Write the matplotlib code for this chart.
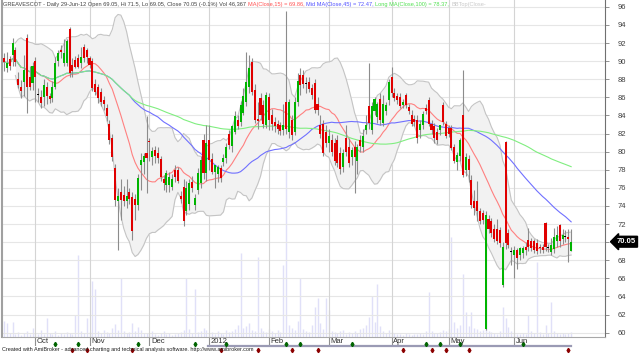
import matplotlib
matplotlib.use('Agg')
import matplotlib.pyplot as plt
import matplotlib.transforms as mtransforms
import numpy as np
import pandas as pd

##########
# Data (one entry per trading day)
##########

opens = [
    90.3, 89.3, 90.2, 90.7, 91.2, 88.0, 87.2, 87.7, 92.6, 88.3,
    87.6, 90.0, 86.3, 86.0, 86.0, 87.2, 86.2, 85.9, 87.2, 90.0,
    91.2, 89.8, 89.8, 93.6, 89.6, 90.1, 90.3, 89.8, 91.6, 91.2,
    90.3, 90.0, 87.5, 87.2, 86.6, 85.7, 84.8, 83.1, 81.5, 78.2,
    74.5, 75.5, 75.2, 74.5, 75.5, 75.0, 74.8, 74.1, 78.5, 78.9,
    79.8, 81.2, 79.4, 80.2, 79.8, 79.2, 77.0, 76.3, 76.3, 76.1,
    78.0, 78.0, 75.1, 76.1, 73.4, 74.2, 76.7, 74.1, 75.8, 76.5,
    81.3, 77.6, 81.3, 79.2, 77.7, 77.5, 78.2, 78.9, 79.3, 82.0,
    80.6, 82.2, 83.5, 83.3, 84.3, 85.5, 87.2, 89.9, 86.8, 83.6,
    85.9, 85.2, 83.0, 86.0, 84.0, 83.3, 83.1, 82.9, 82.4, 85.5,
    82.2, 83.5, 82.2, 85.5, 88.5, 88.5, 87.5, 87.7, 87.0, 87.6,
    85.3, 83.0, 83.1, 82.2, 81.0, 81.3, 81.0, 81.3, 79.8, 78.3,
    81.5, 80.5, 79.4, 80.5, 79.0, 81.3, 80.5, 82.4, 85.0, 82.4,
    84.5, 83.8, 85.8, 83.2, 84.5, 85.7, 88.3, 86.5, 86.1, 86.0,
    85.2, 86.3, 84.9, 84.1, 83.6, 83.5, 82.4, 83.0, 84.8, 85.7,
    83.1, 82.8, 82.2, 82.4, 85.2, 83.1, 82.6, 82.6, 80.5, 78.9,
    79.5, 84.1, 78.0, 79.2, 76.9, 74.6, 74.5, 73.4, 73.2, 60.4,
    72.6, 72.3, 71.5, 71.5, 71.3, 65.3, 81.1, 71.0, 68.9, 68.6,
    69.1, 68.6, 68.8, 69.5, 70.2, 70.1, 70.1, 69.9, 69.5, 69.5,
    72.1, 69.4, 68.9, 69.2, 70.1, 71.9, 70.3, 70.6, 70.6, 69.05,
]
highs = [
    90.9, 91.0, 90.6, 92.6, 91.6, 88.8, 87.9, 90.7, 93.0, 89.5,
    89.9, 90.5, 87.0, 86.8, 88.0, 87.7, 86.5, 87.8, 90.5, 91.2,
    91.8, 92.5, 92.4, 93.8, 90.3, 90.6, 90.8, 91.6, 91.9, 91.5,
    90.6, 90.3, 88.0, 87.5, 87.0, 86.1, 85.3, 83.5, 81.9, 78.6,
    76.0, 77.0, 76.2, 77.0, 76.0, 75.5, 75.3, 77.5, 79.8, 79.8,
    83.9, 81.5, 80.5, 80.6, 80.5, 79.5, 77.4, 78.0, 77.8, 77.5,
    78.5, 78.3, 75.6, 77.0, 76.8, 77.0, 77.3, 75.3, 78.2, 79.5,
    82.0, 83.0, 83.0, 79.8, 78.5, 78.5, 78.5, 79.7, 81.0, 82.4,
    83.0, 84.5, 84.0, 85.6, 87.0, 91.0, 90.7, 90.3, 87.5, 85.5,
    86.5, 85.7, 86.6, 86.5, 84.7, 83.8, 83.5, 83.3, 85.3, 95.5,
    85.8, 84.0, 86.0, 88.7, 89.3, 89.0, 88.3, 88.3, 87.5, 88.0,
    86.0, 84.0, 83.5, 83.0, 82.5, 82.0, 81.5, 81.8, 80.5, 80.3,
    83.0, 81.5, 80.5, 81.2, 80.8, 81.8, 82.5, 84.0, 89.8, 85.5,
    86.0, 85.5, 86.5, 86.3, 85.5, 88.0, 89.4, 87.0, 86.5, 86.5,
    85.8, 86.5, 85.3, 84.6, 84.0, 84.0, 83.5, 84.5, 85.3, 86.0,
    83.5, 83.2, 82.6, 83.0, 85.5, 83.4, 83.0, 83.0, 80.8, 80.0,
    81.5, 89.0, 79.8, 79.6, 77.4, 75.8, 76.8, 73.8, 73.6, 73.4,
    73.0, 72.7, 72.0, 72.6, 71.7, 70.0, 81.2, 71.4, 69.5, 69.6,
    69.4, 69.5, 69.6, 70.0, 71.6, 70.5, 70.4, 70.3, 69.8, 69.8,
    72.2, 69.8, 70.5, 71.6, 71.8, 72.0, 71.5, 71.3, 71.5, 71.5,
]
lows = [
    88.9, 88.8, 89.0, 89.5, 89.5, 87.0, 85.9, 86.2, 84.3, 86.8,
    86.8, 85.5, 85.5, 84.8, 85.0, 85.3, 85.4, 85.5, 86.9, 89.5,
    90.3, 89.5, 89.5, 88.2, 88.3, 89.2, 89.2, 89.3, 89.9, 89.8,
    89.3, 86.7, 86.3, 85.4, 85.0, 84.6, 83.4, 80.8, 79.0, 74.0,
    69.1, 72.5, 74.0, 73.8, 74.2, 70.2, 72.5, 73.5, 75.8, 77.5,
    75.4, 79.0, 78.5, 78.8, 78.8, 76.8, 75.8, 75.5, 75.5, 75.8,
    76.7, 76.5, 74.3, 71.8, 73.0, 73.5, 75.5, 73.5, 75.3, 76.0,
    77.0, 76.8, 78.0, 77.5, 76.0, 76.7, 76.7, 78.4, 78.8, 80.3,
    80.0, 82.0, 82.5, 82.8, 84.0, 85.0, 86.5, 86.3, 83.2, 82.5,
    83.5, 82.6, 82.6, 82.4, 82.4, 82.2, 82.0, 81.8, 81.8, 82.0,
    81.5, 81.3, 81.8, 85.0, 86.3, 87.0, 86.5, 86.6, 85.8, 84.3,
    84.0, 81.5, 79.5, 80.5, 80.0, 79.5, 78.5, 78.3, 77.5, 77.8,
    79.5, 78.3, 78.5, 75.4, 77.5, 80.0, 80.0, 82.0, 82.5, 82.0,
    84.0, 83.2, 83.0, 82.8, 84.0, 85.2, 86.0, 85.6, 85.3, 84.8,
    84.8, 84.8, 84.2, 82.8, 82.8, 81.0, 81.5, 82.5, 84.2, 82.8,
    82.0, 81.0, 80.9, 81.8, 83.0, 81.5, 81.6, 80.2, 78.8, 78.0,
    79.0, 77.2, 77.3, 76.7, 73.8, 73.0, 72.3, 72.0, 72.0, 60.3,
    71.0, 70.6, 70.0, 69.8, 69.5, 65.0, 69.2, 69.3, 67.5, 66.0,
    67.0, 68.0, 68.3, 68.6, 69.0, 69.0, 68.8, 68.7, 68.8, 68.8,
    69.0, 68.9, 68.6, 68.8, 69.5, 69.5, 69.8, 70.0, 67.8, 69.05,
]
closes = [
    89.9, 89.8, 89.5, 92.0, 89.9, 87.4, 86.7, 89.0, 87.1, 87.1,
    89.5, 88.3, 86.3, 85.4, 87.4, 86.2, 85.8, 87.2, 89.8, 90.9,
    91.0, 90.9, 92.2, 88.7, 88.9, 89.4, 89.4, 90.5, 90.3, 90.5,
    89.6, 87.0, 86.6, 85.9, 85.5, 85.3, 83.9, 81.3, 79.4, 74.7,
    75.1, 74.7, 74.6, 75.1, 74.8, 71.2, 74.1, 77.1, 79.1, 79.5,
    79.3, 81.1, 80.1, 79.5, 79.3, 77.2, 76.5, 77.6, 77.2, 77.0,
    77.2, 76.8, 74.8, 72.3, 76.0, 76.5, 76.0, 74.9, 77.6, 79.1,
    77.6, 81.0, 79.1, 77.8, 78.5, 78.3, 77.1, 79.3, 80.5, 80.7,
    82.8, 83.9, 82.8, 85.2, 86.1, 87.7, 89.2, 86.6, 83.5, 83.4,
    84.0, 83.1, 86.3, 83.5, 83.1, 82.8, 82.5, 82.3, 83.0, 82.5,
    85.5, 81.8, 85.5, 87.8, 87.4, 87.5, 87.5, 86.9, 86.3, 84.6,
    84.6, 81.9, 79.8, 81.0, 81.7, 80.0, 79.0, 78.7, 78.1, 79.9,
    80.0, 78.8, 80.2, 79.4, 80.5, 80.6, 81.7, 83.0, 83.2, 85.0,
    85.8, 85.3, 83.5, 85.3, 85.2, 87.7, 86.5, 85.9, 85.7, 85.1,
    85.5, 85.2, 84.5, 83.1, 83.3, 81.5, 83.1, 84.2, 84.5, 83.1,
    82.4, 81.5, 81.3, 82.9, 83.3, 81.7, 81.9, 80.4, 79.0, 79.6,
    81.3, 77.4, 79.4, 78.0, 74.1, 73.8, 73.4, 72.3, 72.4, 73.0,
    71.5, 71.0, 70.4, 70.1, 69.9, 69.5, 69.9, 69.7, 68.9, 69.1,
    68.3, 69.3, 69.4, 69.1, 69.5, 69.3, 69.1, 69.0, 69.3, 69.1,
    69.5, 69.4, 69.7, 70.6, 70.8, 70.1, 70.8, 70.6, 70.3, 70.05,
]
# volume in thousands of shares
volume = [
    160, 140, 40, 150, 30, 50, 25, 40, 60, 30,
    90, 40, 30, 70, 35, 190, 45, 30, 60, 25,
    40, 30, 55, 45, 35, 220, 820, 60, 40, 190,
    50, 560, 480, 60, 40, 70, 50, 45, 90, 130,
    70, 590, 60, 40, 55, 140, 60, 100, 70, 40,
    45, 30, 60, 35, 25, 40, 60, 30, 45, 25,
    35, 40, 55, 70, 590, 80, 40, 480, 50, 60,
    90, 70, 40, 50, 30, 60, 45, 35, 70, 55,
    60, 80, 120, 840, 90, 110, 140, 70, 60, 800,
    90, 60, 50, 80, 60, 40, 70, 55, 720, 1670,
    120, 90, 70, 160, 590, 80, 60, 50, 120, 300,
    390, 140, 80, 390, 270, 60, 50, 40, 60, 70,
    35, 50, 45, 60, 40, 80, 90, 120, 200, 410,
    150, 530, 110, 60, 40, 70, 50, 40, 35, 30,
    25, 40, 30, 25, 35, 30, 40, 30, 60, 450,
    60, 45, 40, 50, 70, 60, 80, 1000, 150, 90,
    120, 630, 250, 110, 250, 90, 80, 60, 70, 380,
    60, 50, 40, 35, 60, 300, 190, 100, 60, 40,
    35, 30, 45, 30, 220, 60, 40, 750, 50, 35,
    120, 40, 350, 60, 40, 30, 45, 30, 40, 46,
]

month_labels = ['Oct', 'Nov', 'Dec', '2012', 'Feb', 'Mar', 'Apr', 'May', 'Jun']
month_starts = [11, 30, 51, 72, 93, 114, 136, 156, 179]
buy_marks = [18, 26, 47, 67, 78, 99, 104, 122, 148, 153, 160, 182]
sell_marks = [24, 29, 45, 76, 89, 101, 110, 140, 150, 155, 163, 198]

header = [
    ('GREAVESCOT - Daily 29-Jun-12 Open 69.05, Hi 71.5, Lo 69.05, '
     'Close 70.05 (-0.1%) Vol 46,367 ', '#404040'),
    ('MA(Close,15) = 69.86, ', '#ff5050'),
    ('Mid MA(Close,45) = 72.47, ', '#5050ff'),
    ('Long MA(Close,100) = 78.37, ', '#50e050'),
    ('BBTop(Close-', '#c8c8c8'),
]

##########
# Indicators
##########

c = pd.Series(closes)
ma15 = c.rolling(15, min_periods=1).mean()
ma45 = c.rolling(45, min_periods=1).mean()
ma100 = c.rolling(100, min_periods=1).mean()
bb_mid = c.rolling(15, min_periods=5).mean()
bb_std = c.rolling(15, min_periods=5).std(ddof=0)
bb_top = bb_mid + 2 * bb_std
bb_bot = bb_mid - 2 * bb_std

##########
# Figure
##########

plt.rcParams['font.family'] = ['Liberation Sans Narrow', 'Liberation Sans', 'DejaVu Sans']

W, H = 640, 354
fig = plt.figure(figsize=(W / 100, H / 100), dpi=100)
fig.patch.set_facecolor('white')

left, right, top, bottom = 2, 605, 0, 337
ax = fig.add_axes([left / W, (H - bottom) / H, (right - left) / W, (bottom - top) / H])
ax_vol = ax.twinx()
ax.set_zorder(2)
ax_vol.set_zorder(1)
ax.patch.set_visible(False)

x = np.arange(len(closes))
xl = (-(4 - left) / 2.85, (right - 4) / 2.85)
ax.set_xlim(*xl)
ax.set_ylim(59.52, 96.76)

# volume overlay
ax_vol.vlines(x, 0, volume, color='#e0e0f8', lw=1.0)
ax_vol.set_ylim(0, 3370)
ax_vol.axis('off')

# grid
yt = np.arange(60, 97, 2)
ax.set_yticks(yt)
for yv in yt:
    ax.axhline(yv, color='#e6e6e6', lw=0.8, zorder=0)
for m in month_starts:
    ax.axvline(m, color='#d4d4d4', lw=0.8, zorder=0)

# bollinger band
ax.fill_between(x, bb_bot, bb_top, color='#f2f2f2', lw=0, zorder=1)
ax.plot(x, bb_top, color='#c4c4c4', lw=0.8, zorder=1.5)
ax.plot(x, bb_bot, color='#c4c4c4', lw=0.8, zorder=1.5)

# moving averages
ax.plot(x, ma15, color='#ff8080', lw=0.8, zorder=2)
ax.plot(x, ma45, color='#7070ff', lw=0.8, zorder=2)
ax.plot(x, ma100, color='#80ee80', lw=0.8, zorder=2)

# candles
o = np.array(opens)
cl = np.array(closes)
ax.vlines(x, lows, highs, color='#8c8c8c', lw=0.8, zorder=3)
body_col = np.where(cl > o, '#00b400', '#e00000')
body_col = np.where(np.abs(cl - o) < 0.05, '#000000', body_col)
heights = np.maximum(np.abs(cl - o), 0.12)
ax.bar(x, heights, bottom=np.minimum(o, cl), width=0.72, color=body_col,
       lw=0, zorder=4)

# right axis (the 70 label sits under the last price tag)
ax.yaxis.tick_right()
ax.tick_params(axis='y', length=3, width=0.6, color='#808080', labelsize=5.5,
               labelcolor='#404040', pad=6)
ax.set_yticklabels(['' if v == 70 else str(v) for v in yt])
ax.set_xticks([])
ax.spines['top'].set_visible(False)
ax.spines['right'].set_color('#707070')
ax.spines['left'].set_color('#a0a0a0')
ax.spines['left'].set_linewidth(1.5)
ax.spines['bottom'].set_color('#a8a8a8')

# last price tag
tr = mtransforms.blended_transform_factory(ax.transAxes, ax.transData)
ax.text((626 - left) / (right - left), closes[-1], '%.2f' % closes[-1], transform=tr,
        ha='center', va='center', fontsize=5.5, color='white', fontweight='bold',
        bbox=dict(boxstyle='larrow,pad=0.25', fc='black', ec='black'), zorder=10,
        clip_on=False)

# date strip
axd = fig.add_axes([left / W, (H - 346) / H, (right - left) / W, 9 / H], sharex=ax)
axd.set_ylim(0, 1)
axd.set_xlim(*xl)
axd.axis('off')
for m, lab in zip(month_starts, month_labels):
    axd.vlines(m, 0, 1, color='#909090', lw=0.8)
    axd.text(m + 0.6, 0.45, lab, fontsize=5.5, color='#303030', va='center', ha='left')
axd.plot([71.6, 199], [0.02, 0.02], color='#9a9ab4', lw=1.6, clip_on=False)

# signal markers
axm = fig.add_axes([left / W, 0, (right - left) / W, 8 / H], sharex=ax)
axm.set_ylim(0, 1)
axm.set_xlim(*xl)
axm.axis('off')
axd.plot(buy_marks, [0.25] * len(buy_marks), 'd', color='#006400', ms=2.2)
axm.plot(sell_marks, [0.55] * len(sell_marks), 'd', color='#8b0000', ms=2.2)

# credit line
fig.text(2 / W, 4 / H, 'Created with AmiBroker - advanced charting and technical '
         'analysis software. http://www.amibroker.com', fontsize=4.0,
         color='#202020', va='center', ha='left')

# header, one coloured piece after another
renderer = fig.canvas.get_renderer()
xpos = 3
for txt, col in header:
    t = fig.text(xpos / W, (H - 2) / H, txt, fontsize=4.1, color=col,
                 va='top', ha='left')
    bb = t.get_window_extent(renderer)
    xpos = bb.x1

fig.savefig('out.png', dpi=100)
